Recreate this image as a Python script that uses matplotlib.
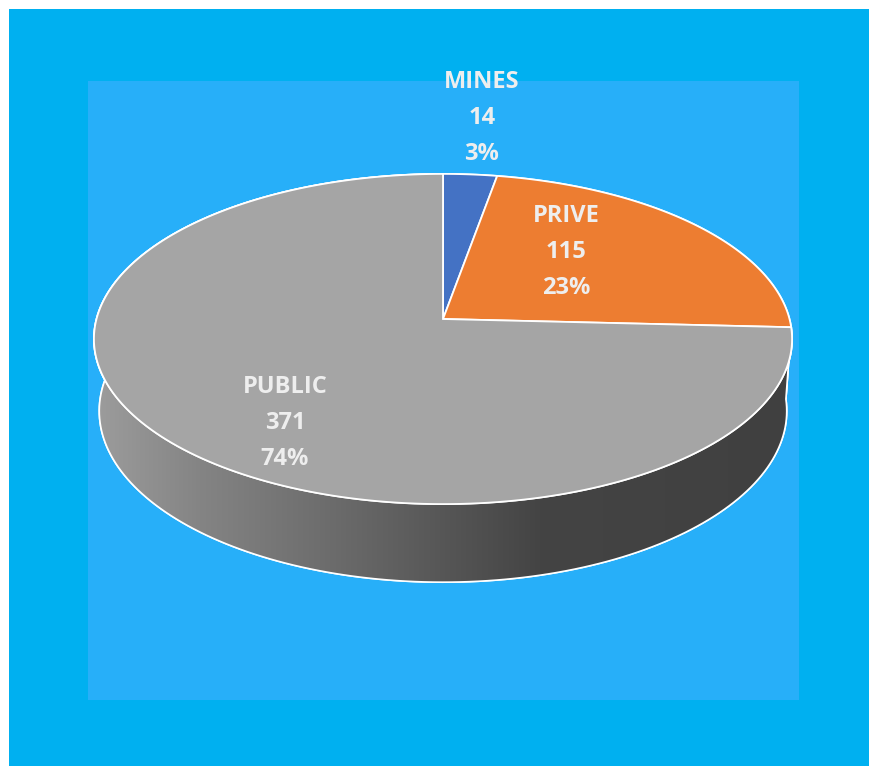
import numpy as np
import matplotlib.pyplot as plt
from matplotlib.patches import Polygon, Rectangle

# =========================================================
# DATA
# =========================================================

labels = ['MINES', 'PRIVE', 'PUBLIC']
values = [14, 115, 371]
colors = ['#4472C4', '#ED7D31', '#A5A5A5']
side_colors = ['#2F528F', '#AE5A21', '#7A7A7A']

# label centre (pixel) for each slice
label_pos = [(482, 118), (566, 252), (285, 423)]

# =========================================================
# 3D PIE GEOMETRY (simple perspective camera, pixel units)
# =========================================================

W, H = 870, 766
CX, CY = 443, 319        # projected pie centre
ELEV = np.radians(28)
DIST = 7.29
FOCAL = 2526
DEPTH = 0.2375

def project(theta, z):
    # theta: degrees clockwise from 12 o'clock
    t = np.radians(theta)
    x, y = np.sin(t), np.cos(t)
    d = DIST + y * np.cos(ELEV) - z * np.sin(ELEV)
    u = FOCAL * x / d
    v = FOCAL * (y * np.sin(ELEV) + z * np.cos(ELEV)) / d
    return CX + u, CY - v

def arc(t0, t1, z, n=200):
    th = np.linspace(t0, t1, n)
    px, py = project(th, z)
    return np.column_stack([px, py])

total = sum(values)
bounds = np.concatenate([[0], np.cumsum(values) / total * 360])

# =========================================================
# FIGURE
# =========================================================

fig = plt.figure(figsize=(W / 100, H / 100), dpi=100)
fig.patch.set_facecolor('white')
ax = fig.add_axes([0, 0, 1, 1])
ax.set_xlim(0, W)
ax.set_ylim(H, 0)
ax.axis('off')

ax.add_patch(Rectangle((9, 9), W - 9, H - 9, facecolor='#00B0F0', edgecolor='none', zorder=0))
ax.add_patch(Rectangle((88, 81), 711, 619, facecolor='#27AFF9', edgecolor='none', zorder=1))

# side walls
grad_x = [97, 200, 330, 450, 540, 790]
grad_v = [0x9c, 0x84, 0x6c, 0x55, 0x44, 0x40]
xs = np.arange(90, 800)
gray = np.interp(xs, grad_x, grad_v) / 255.0
grad_img = np.tile(np.column_stack([gray, gray, gray])[None, :, :], (2, 1, 1))

for i in range(len(values)):
    t0, t1 = bounds[i], bounds[i + 1]
    pts = np.vstack([arc(t0, t1, 0), arc(t1, t0, -DEPTH)])
    poly = Polygon(pts, closed=True, facecolor=side_colors[i],
                   edgecolor='white', linewidth=1.2, zorder=2)
    ax.add_patch(poly)
    if labels[i] == 'PUBLIC':
        im = ax.imshow(grad_img, extent=(90, 800, 600, 150), aspect='auto',
                       zorder=2.5, interpolation='bilinear')
        im.set_clip_path(poly)
        ax.add_patch(Polygon(pts, closed=True, facecolor='none',
                             edgecolor='white', linewidth=1.2, zorder=2.6))

# top faces
for i in range(len(values)):
    t0, t1 = bounds[i], bounds[i + 1]
    pts = np.vstack([[CX, CY], arc(t0, t1, 0)])
    ax.add_patch(Polygon(pts, closed=True, facecolor=colors[i],
                         edgecolor='white', linewidth=1.3, zorder=3))

# labels
for i in range(len(values)):
    pct = round(values[i] / total * 100)
    x, y = label_pos[i]
    ax.text(x, y, f'{labels[i]}\n{values[i]}\n{pct}%', ha='center', va='center',
            fontsize=17, fontweight='bold', color='#EEEEEE',
            family=['Open Sans', 'DejaVu Sans'], linespacing=1.68, zorder=5)

fig.savefig('out.png', dpi=100, facecolor='white')
